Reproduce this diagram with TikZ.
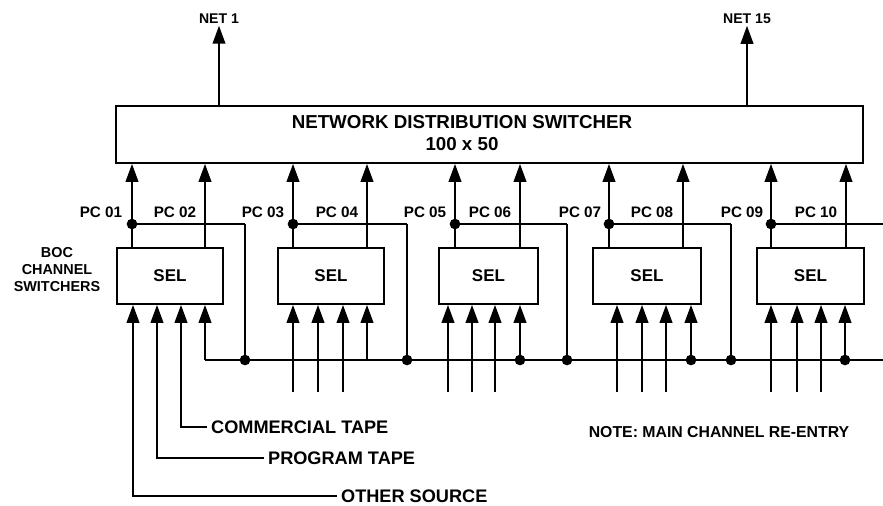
\documentclass[tikz,border=0pt]{standalone}
\usepackage{fontspec}
\setmainfont{Liberation Sans}
\usetikzlibrary{arrows.meta}

\tikzset{
  wire/.style={line width=1.6pt},
  feed/.style={wire, -{Triangle[length=5.4mm,width=3.8mm]}},
  selbox/.style={draw, line width=1.6pt, minimum height=16.8mm, inner sep=0pt,
    font=\bfseries\fontsize{14.5}{14.5}\selectfont},
  pclabel/.style={font=\bfseries\fontsize{13}{13}\selectfont},
  netlabel/.style={font=\bfseries\fontsize{12}{12}\selectfont, inner sep=0.5mm},
  srclabel/.style={anchor=west, font=\bfseries\fontsize{15.5}{15.5}\selectfont},
  junction/.style={circle, fill, inner sep=0pt, minimum size=3.2mm},
}

\begin{document}
\begin{tikzpicture}[x=0.3mm, y=-0.3mm]
  \useasboundingbox (0,0) rectangle (883,505);

  % network distribution switcher
  \node[draw, line width=1.6pt, anchor=north west, inner sep=0pt,
    minimum width={(862-115)*0.3mm}, minimum height={57*0.3mm}] (nds) at (115,105) {};
  \node[align=center, font=\bfseries\fontsize{16}{18.7}\selectfont] (ndstext) at (462,133)
    {NETWORK DISTRIBUTION SWITCHER\\100 x 50};

  \node[netlabel] (net1) at (219,19) {NET 1};
  \node[netlabel] (net15) at (747,19) {NET 15};
  \draw[feed] (nds.north -| net1) -- (net1.south);
  \draw[feed] (nds.north -| net15) -- (net15.south);

  % re-entry bus
  \coordinate (busL) at (205,360);
  \coordinate (busR) at (883,360);
  \draw[wire] (busL) -- (busR);

  % channel switchers
  \foreach \g/\bl/\br/\pa/\pb/\ia/\ib/\ic/\id/\fb in {
      1/116/222/132/205/133/157/181/205/245,
      2/277/383/293/367/293/318/343/367/407,
      3/438/537/455/520/448/472/495/520/567,
      4/592/700/609/683/617/642/666/691/731,
      5/756/863/771/846/771/797/821/845/883}{
    \node[selbox, minimum width={(\br-\bl)*0.3mm}, anchor=north west] (sel\g) at (\bl,247) {SEL};
    \coordinate (pa\g) at (\pa,224);
    \coordinate (pb\g) at (\pb,224);
    \coordinate (fb\g) at (\fb,224);
    \draw[feed] (sel\g.north -| pa\g) -- (nds.south -| pa\g);
    \draw[feed] (sel\g.north -| pb\g) -- (nds.south -| pb\g);
    \draw[wire] (pa\g) -- (fb\g);
    \node[junction] (dot\g) at (pa\g) {};
    \foreach \x/\k in {\ia/a,\ib/b,\ic/c,\id/d}
      \coordinate (in\g\k) at (\x,392);
    \draw[feed] (in\g d |- busL) -- (sel\g.south -| in\g d);
  }

  % main channel re-entry
  \foreach \g in {1,...,4}{
    \draw[wire] (fb\g) -- (fb\g |- busL);
    \node[junction] (fbdot\g) at (fb\g |- busL) {};
  }
  \foreach \g in {3,4,5}
    \node[junction] (indot\g) at (in\g d |- busL) {};
  \foreach \g in {2,...,5}
    \foreach \k in {a,b,c}
      \draw[feed] (in\g\k) -- (sel\g.south -| in\g\k);

  % PC labels
  \foreach \n/\x in {01/101,02/175,03/263,04/337,05/425,06/490,07/580,08/652,09/742,10/816}
    \node[pclabel] (pc\n) at (\x,212) {PC \n};

  \node[align=center, font=\bfseries\fontsize{12.3}{14.5}\selectfont] (boc) at (57,270)
    {BOC\\CHANNEL\\SWITCHERS};

  % sources of the first switcher
  \node[srclabel] (comtape) at (207,427) {COMMERCIAL TAPE};
  \node[srclabel] (progtape) at (264,458) {PROGRAM TAPE};
  \node[srclabel] (othersrc) at (337,496) {OTHER SOURCE};
  \draw[feed] (comtape.west) -| (sel1.south -| in1c);
  \draw[feed] (progtape.west) -| (sel1.south -| in1b);
  \draw[feed] (othersrc.west) -| (sel1.south -| in1a);

  \node[font=\bfseries\fontsize{13.5}{13.5}\selectfont] (note) at (719,432)
    {NOTE: MAIN CHANNEL RE-ENTRY};
\end{tikzpicture}
\end{document}
